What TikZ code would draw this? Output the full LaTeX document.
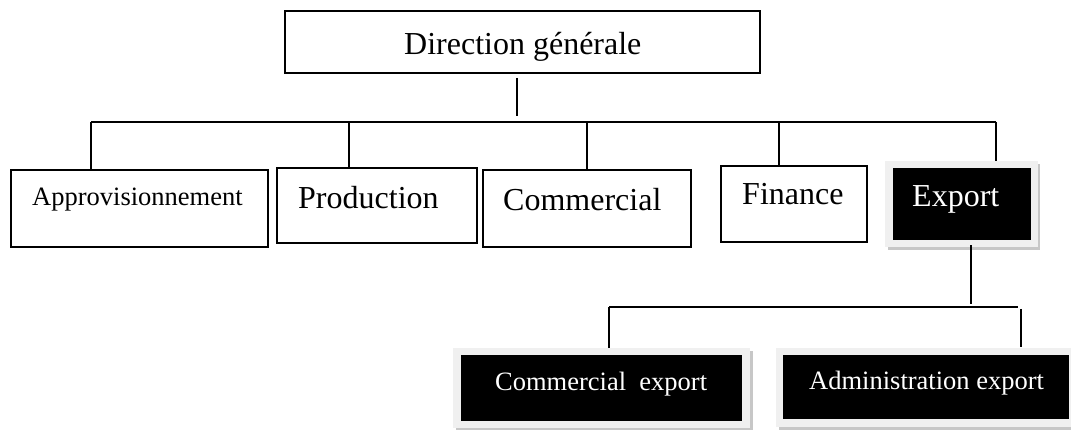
\documentclass[tikz,border=0pt]{standalone}
\usepackage{fontspec}
\setmainfont{Liberation Serif}
\begin{document}
\begin{tikzpicture}[x=1pt,y=-1pt,
  box/.style={draw=black,line width=1.4pt,fill=white,inner sep=0pt},
  blackbox/.style={fill=black,inner sep=0pt},
  frame/.style={fill=black!6,inner sep=0pt},
  shade/.style={fill=black!22,inner sep=0pt},
  link/.style={line width=1.3pt},
  big/.style={font=\fontsize{32}{38}\selectfont,inner sep=0pt,anchor=base west},
  small/.style={font=\fontsize{26.5}{32}\selectfont,inner sep=0pt,anchor=base west},
  wtext/.style={text=white}]
\useasboundingbox (0,0) rectangle (1071,430);
\clip (0,0) rectangle (1071,430);

% top level
\node[box,minimum width=475pt,minimum height=62pt] (dg) at (522.5,42) {};
\node[big] (dgt) at (404,55) {Direction générale};

% departments
\node[box,minimum width=257pt,minimum height=77pt] (appro) at (139.5,208.5) {};
\node[small] (approt) at (32,206) {Approvisionnement};
\node[box,minimum width=200pt,minimum height=75pt] (prod) at (377,205.5) {};
\node[big] (prodt) at (298,209) {Production};
\node[box,minimum width=208pt,minimum height=77pt] (comm) at (587,208.5) {};
\node[big] (commt) at (503,211) {Commercial};
\node[box,minimum width=146pt,minimum height=76pt] (fin) at (794,204) {};
\node[big] (fint) at (742,205) {Finance};

% export (shadowed black box)
\node[shade,minimum width=152pt,minimum height=86pt] (expsh) at (964,207) {};
\node[frame,minimum width=153pt,minimum height=86pt] (expfr) at (961.5,204) {};
\node[blackbox,minimum width=138pt,minimum height=72pt] (exp) at (962,204) {};
\node[big,wtext] (expt) at (912,207) {Export};

% export sub-units
\node[shade,minimum width=297pt,minimum height=80pt] (cesh) at (604,391) {};
\node[frame,minimum width=297pt,minimum height=80pt] (cefr) at (601.5,388) {};
\node[blackbox,minimum width=281pt,minimum height=66pt] (ce) at (601.5,388) {};
\node[small,wtext] (cet) at (495,390) {Commercial\ \ export};

\node[shade,minimum width=300pt,minimum height=79pt] (aesh) at (929,390.5) {};
\node[frame,minimum width=300pt,minimum height=79pt] (aefr) at (926,387.5) {};
\node[blackbox,minimum width=286pt,minimum height=64pt] (ae) at (926,387) {};
\node[small,wtext] (aet) at (809,389) {Administration export};

% connectors, first level
\coordinate (stemtop) at (517,78);
\coordinate (stembot) at (517,116);
\coordinate (busL) at (91,122);
\coordinate (busR) at (996,122);
\draw[link] (stemtop) -- (stembot);
\draw[link] (busL) -- (busR);
\draw[link] (busL) -- (busL |- appro.north);
\draw[link] (busL -| 349,0) -- (349,168);
\draw[link] (busL -| comm.north) -- (comm.north);
\draw[link] (busL -| 779,0) -- (779,166);
\draw[link] (busR) -- (busR |- expfr.north);

% connectors, export level
\coordinate (sub) at (971,304);
\coordinate (subL) at (609,307);
\coordinate (subR) at (1018,307);
\draw[link] (exp.south -| sub) ++(0,5) -- (sub);
\draw[link] (subL) -- (subR);
\draw[link] (subL) -- (subL |- cefr.north);
\draw[link] (1021,309) -- (1021,347);
\end{tikzpicture}
\end{document}
